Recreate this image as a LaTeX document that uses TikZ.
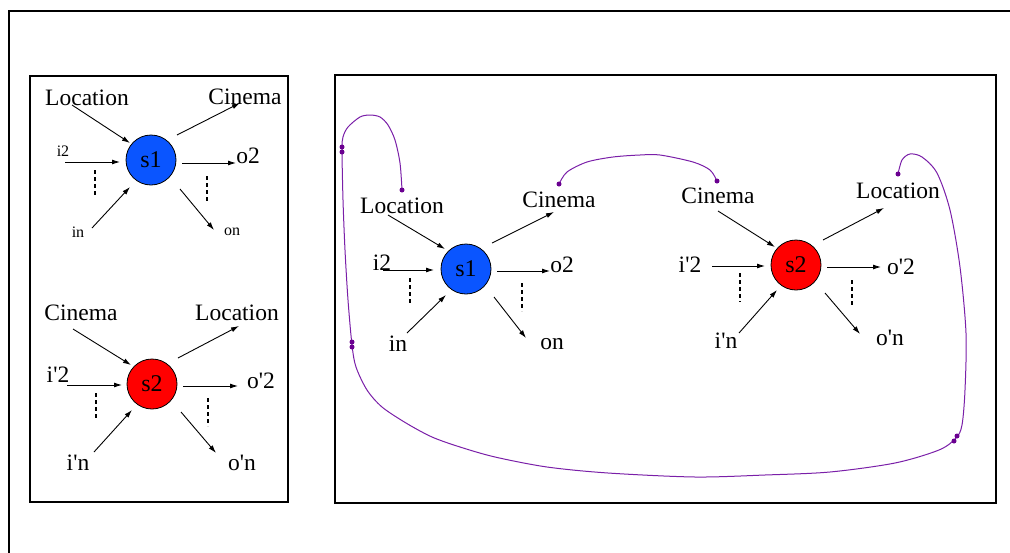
\documentclass[tikz,border=0pt]{standalone}
\usepackage{fontspec}
\setmainfont{Liberation Serif}
\usetikzlibrary{arrows.meta}
\definecolor{stblue}{RGB}{10,85,255}
\definecolor{stred}{RGB}{255,0,0}
\definecolor{wire}{RGB}{122,31,168}
\definecolor{wiredot}{RGB}{106,0,144}
\newcommand{\q}{\textquotesingle}
\tikzset{
  lbl/.style={anchor=base,inner sep=0pt,font=\fontsize{23.5}{26}\selectfont},
  slbl/.style={anchor=base,inner sep=0pt,font=\fontsize{16}{18}\selectfont},
  svc/.style={circle,draw=black,line width=0.8pt,minimum size=50pt,inner sep=0pt,font=\fontsize{24}{26}\selectfont},
  arr/.style={line width=0.9pt,-{Latex[length=8pt,width=5pt]}},
  vdots/.style={line width=1.8pt,dash pattern=on 4pt off 3pt},
  frame/.style={line width=2pt},
  wireline/.style={draw=wire,line width=1pt},
  wdot/.style={circle,fill=wiredot,inner sep=0pt,minimum size=5pt}
}
\begin{document}
\begin{tikzpicture}[x=1pt,y=-1pt]
\useasboundingbox (0,0) rectangle (1010,552);
% outer frame
\draw[frame] (1012,11) -- (9,11) -- (9,554);
% boxes
\draw[frame] (30,76) rectangle (288,502);
\draw[frame] (335,75) rectangle (996,503);

% ---------- left box, s1 ----------
\node[svc,fill=stblue] (a1) at (151,160) {s1};
\node[lbl] (a1loc) at (87,105) {Location};
\node[lbl] (a1cin) at (245,104) {Cinema};
\node[slbl] (a1i2) at (63,156) {i2};
\node[lbl] (a1o2) at (248,163) {o2};
\node[slbl] (a1in) at (78,237) {in};
\node[slbl] (a1on) at (232,235) {on};
\draw[arr] (72,105) -- (130,143);
\draw[arr] (177,135) -- (240,103);
\draw[arr] (65,162) -- (120,162);
\draw[arr] (182,163) -- (236,163);
\draw[arr] (92,228) -- (130,187);
\draw[arr] (180,189) -- (214,230);
\draw[vdots] (95,170) -- (95,197);
\draw[vdots] (207,176) -- (207,203);

% ---------- left box, s2 ----------
\node[svc,fill=stred] (a2) at (152,384) {s2};
\node[lbl] (a2cin) at (81,320) {Cinema};
\node[lbl] (a2loc) at (237,320) {Location};
\node[lbl] (a2i2) at (58,382) {i\q2};
\node[lbl] (a2o2) at (261,388) {o\q2};
\node[lbl] (a2in) at (78,470) {i\q n};
\node[lbl] (a2on) at (242,470) {o\q n};
\draw[arr] (73,329) -- (131,365);
\draw[arr] (178,358) -- (239,326);
\draw[arr] (67,385) -- (122,385);
\draw[arr] (183,386) -- (238,386);
\draw[arr] (94,452) -- (132,410);
\draw[arr] (181,412) -- (216,453);
\draw[vdots] (96,393) -- (96,419);
\draw[vdots] (208,398) -- (208,426);

% ---------- right box, s1 ----------
\node[svc,fill=stblue] (b1) at (466,269) {s1};
\node[lbl] (b1loc) at (402,213) {Location};
\node[lbl] (b1cin) at (559,207) {Cinema};
\node[lbl] (b1i2) at (382,270) {i2};
\node[lbl] (b1o2) at (562,272) {o2};
\node[lbl] (b1in) at (398,351) {in};
\node[lbl] (b1on) at (552,349) {on};
\draw[arr] (388,215) -- (445,249);
\draw[arr] (492,243) -- (554,212);
\draw[arr] (383,270) -- (434,270);
\draw[arr] (497,271) -- (550,271);
\draw[arr] (407,333) -- (446,295);
\draw[arr] (494,297) -- (526,338);
\draw[vdots] (410,278) -- (410,304);
\draw[vdots] (522,283) -- (522,311);

% ---------- right box, s2 ----------
\node[svc,fill=stred] (b2) at (796,265) {s2};
\node[lbl] (b2cin) at (718,203) {Cinema};
\node[lbl] (b2loc) at (898,198) {Location};
\node[lbl] (b2i2) at (690,272) {i\q2};
\node[lbl] (b2o2) at (901,274) {o\q2};
\node[lbl] (b2in) at (726,348) {i\q n};
\node[lbl] (b2on) at (890,345) {o\q n};
\draw[arr] (718,211) -- (775,247);
\draw[arr] (823,240) -- (884,208);
\draw[arr] (712,266) -- (765,266);
\draw[arr] (827,267) -- (881,267);
\draw[arr] (739,333) -- (777,290);
\draw[arr] (825,293) -- (860,334);
\draw[vdots] (740,273) -- (740,302);
\draw[vdots] (852,280) -- (852,307);

% ---------- purple links ----------
\coordinate (pA) at (402,190);
\coordinate (pB) at (898,174);
\coordinate (pC) at (559,184);
\coordinate (pD) at (717,181);
\draw[wireline] plot[smooth,tension=0.5] coordinates {
 (402,190) (400,163) (395,140) (388,125) (380,117) (370,115) (360,117)
 (348,127) (343,137) (342,150) (343,200) (345,250) (348,300) (352,345)
 (356,367) (367,390) (382,407) (406,423) (432,437) (460,447) (495,457)
 (547,467) (608,473) (695,477) (765,475) (830,472) (895,463) (939,450)
 (956,438) (962,425) (965,390) (966,333) (960,267) (950,210) (937,173)
 (922,157) (910,154) (902,160) (898,174)};
\draw[wireline] plot[smooth,tension=0.5] coordinates {
 (559,184) (567,172) (587,162) (613,157) (640,155) (660,155) (693,162)
 (710,170) (717,181)};
\node[wdot] (dA) at (pA) {};
\node[wdot] (dB) at (pB) {};
\node[wdot] (dC) at (pC) {};
\node[wdot] (dD) at (pD) {};
\node[wdot] (d1) at (342,147) {};
\node[wdot] (d2) at (342,152) {};
\node[wdot] (d3) at (352,342) {};
\node[wdot] (d4) at (352,347) {};
\node[wdot] (d5) at (954,441) {};
\node[wdot] (d6) at (957,436) {};
\end{tikzpicture}
\end{document}
